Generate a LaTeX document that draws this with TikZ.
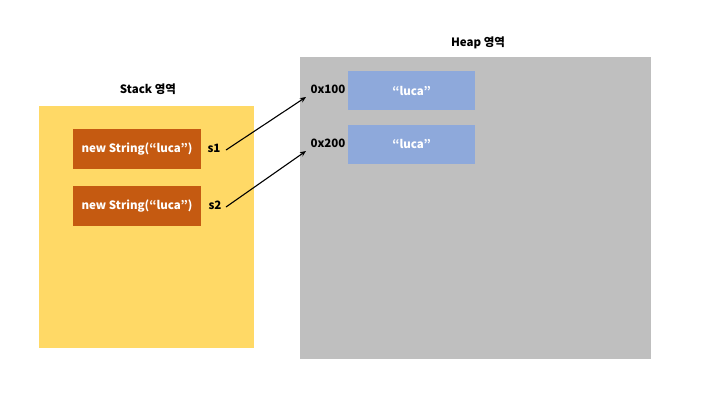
\documentclass[tikz,border=0pt]{standalone}
\usepackage{fontspec}
\setmainfont{Noto Sans CJK KR}[BoldFont={* Black}]
\usetikzlibrary{arrows.meta}
\definecolor{stackc}{HTML}{FFD966}
\definecolor{heapc}{HTML}{BFBFBF}
\definecolor{objc}{HTML}{C55A11}
\definecolor{valc}{HTML}{8EA9DB}
\begin{document}
\begin{tikzpicture}[x=1pt,y=-1pt,
  txt/.style={font=\bfseries\fontsize{11.5}{13}\selectfont, inner sep=0pt},
  objbox/.style={fill=objc, text=white, minimum width=128pt, minimum height=40pt, inner sep=0pt, font=\bfseries\fontsize{11.5}{13}\selectfont},
  valbox/.style={fill=valc, text=white, minimum width=127pt, minimum height=39pt, inner sep=0pt, font=\bfseries\fontsize{11.5}{13}\selectfont},
  ptr/.style={-{Stealth[length=6pt,width=5pt]}, line width=1.1pt}]
\useasboundingbox (0,0) rectangle (720,405);
\fill[white] (0,0) rectangle (720,405);
% areas
\fill[stackc] (39,106) rectangle (254,348);
\fill[heapc] (300,57) rectangle (651,359);
\node[txt] (stacklbl) at (148,89) {Stack 영역};
\node[txt] (heaplbl) at (478,43) {Heap 영역};
% stack objects
\node[objbox] (o1) at (137,149) {new String(“luca”)};
\node[objbox] (o2) at (137,206) {new String(“luca”)};
\node[txt] (s1) at (214,148) {s1};
\node[txt] (s2) at (215,205) {s2};
% heap values
\node[valbox] (v1) at (411.5,90.5) {“luca”};
\node[valbox] (v2) at (411.5,144) {“luca”};
\node[txt] (a1) at (328,89) {0x100};
\node[txt] (a2) at (328,143) {0x200};
% pointers
\coordinate (p1s) at (226,150);
\coordinate (p1e) at (306,97);
\coordinate (p2s) at (226,207);
\coordinate (p2e) at (306,151);
\draw[ptr] (p1s) -- (p1e);
\draw[ptr] (p2s) -- (p2e);
\end{tikzpicture}
\end{document}
